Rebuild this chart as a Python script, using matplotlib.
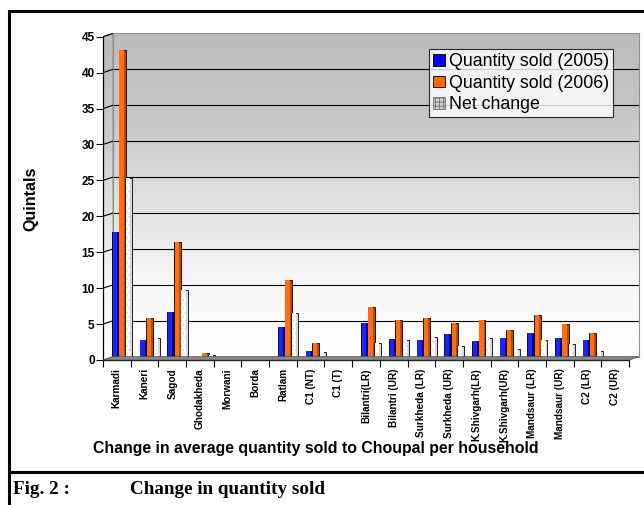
import numpy as np
import matplotlib
matplotlib.use("Agg")
import matplotlib.pyplot as plt
from matplotlib.patches import Patch, Polygon
from matplotlib.lines import Line2D
from matplotlib.colors import LinearSegmentedColormap

categories = ["Karmadi", "Kaneri", "Sagod", "Ghodakheda", "Morwani", "Borda", "Ratlam",
              "C1 (NT)", "C1 (T)", "Bilantri(LR)", "Bilantri (UR)", "Surkheda (LR)",
              "Surkheda (UR)", "K.Shivgarh(LR)", "K.Shivgarh(UR)", "Mandsaur (LR)",
              "Mandsaur (UR)", "C2 (LR)", "C2 (UR)"]
sold_2005 = [17.8, 2.8, 6.7, 0.3, 0.0, 0.0, 4.6, 1.3, 0.0, 5.2, 2.9, 2.8, 3.6, 2.7, 3.0, 3.7, 3.1, 2.8, 0.0]
sold_2006 = [43.2, 5.8, 16.4, 1.0, 0.0, 0.0, 11.1, 2.3, 0.0, 7.4, 5.5, 5.8, 5.2, 5.6, 4.2, 6.3, 5.0, 3.7, 0.0]
net_change = [25.4, 3.0, 9.7, 0.7, 0.0, 0.0, 6.5, 1.1, 0.0, 2.3, 2.8, 3.2, 1.9, 3.0, 1.5, 2.8, 2.2, 1.2, 0.0]
series_labels = ["Quantity sold (2005)", "Quantity sold (2006)", "Net change"]
yticks = [0, 5, 10, 15, 20, 25, 30, 35, 40, 45]

SANS = ["Liberation Sans", "DejaVu Sans"]
SERIF = ["Liberation Serif", "DejaVu Serif"]
plt.rcParams['font.family'] = SANS
plt.rcParams['hatch.linewidth'] = 0.6

W, H = 644, 505
fig = plt.figure(figsize=(W / 100, H / 100), dpi=100)
fig.patch.set_facecolor("white")

def fx(x):
    return x / W

def fy(y):
    return 1 - y / H

# geometry (pixels)
FL, FR, FB, FT = 103, 629, 360, 36.7      # front plane
DX, DY = 10, 3.3                           # depth offset
BL, BR, BB, BT = FL + DX, FR + DX, FB - DY, FT - DY

grad_cmap = LinearSegmentedColormap.from_list("wall", ["#ffffff", "#f6f6f6", "#dedede", "#c6c6c6", "#bcbcbc"])
grad = np.linspace(0, 1, 256).reshape(-1, 1)

# back wall
bg = fig.add_axes([fx(BL), fy(BB), (BR - BL) / W, (BB - BT) / H])
bg.imshow(grad, extent=[0, 1, 0, 45], aspect="auto", cmap=grad_cmap, origin="lower", zorder=0)
bg.set_xlim(0, 1)
bg.set_ylim(0, 45)
for v in yticks[1:-1]:
    bg.axhline(v, color="black", lw=0.8, zorder=1)
bg.set_xticks([])
bg.set_yticks([])
for s in bg.spines.values():
    s.set_color("#909090")
    s.set_linewidth(0.8)

# side wall
side = fig.add_axes([fx(FL), fy(FB), DX / W, (FB - BT) / H])
side.set_xlim(0, 1)
side.set_ylim(0, 1)
side.axis("off")
im = side.imshow(grad, extent=[0, 1, 0, 1], aspect="auto", cmap=grad_cmap, origin="lower")
hh = FB - BT
poly = Polygon([(0, 0), (1, DY / hh), (1, 1), (0, (FB - FT) / hh)], closed=True,
               transform=side.transAxes, facecolor="none", edgecolor="#909090", lw=0.8)
side.add_patch(poly)
im.set_clip_path(poly)
scale = (FB - FT) / 45.0
for v in yticks[1:]:
    yf = v * scale / hh
    yb = (DY + v * scale) / hh
    side.add_line(Line2D([0, 1], [yf, yb], color="black", lw=0.8, transform=side.transAxes))

# floor
floor = Polygon([(fx(FL), fy(FB)), (fx(BL), fy(BB)), (fx(BR), fy(BB)), (fx(FR), fy(FB))],
                closed=True, transform=fig.transFigure, facecolor="#8a8a8a",
                edgecolor="#555555", lw=0.6)
fig.add_artist(floor)

# main axes
ax = fig.add_axes([fx(FL), fy(FB), (FR - FL) / W, (FB - FT) / H])
ax.patch.set_alpha(0)
ax.set_xlim(-0.5, len(categories) - 0.5)
ax.set_ylim(0, 45)
x = np.arange(len(categories))

bw = 0.25
offsets = [-0.05, 0.19, 0.43]
face = ["#1a22ff", "#ff6d10", "#ffffff"]
dark = ["#00008a", "#c04800", "#d8d8d8"]
for k, vals in enumerate([sold_2005, sold_2006, net_change]):
    xs = x + offsets[k]
    ax.bar(xs, vals, width=bw, color=dark[k], edgecolor="black", lw=0.6, zorder=3 + k)
    left = xs - bw / 2 + 0.1 * bw
    if k == 2:
        ax.bar(left, vals, width=bw * 0.62, align="edge", color=face[k], edgecolor="#dcdcb4",
               hatch="....", lw=0, zorder=3 + k)
    else:
        ax.bar(left, vals, width=bw * 0.62, align="edge", color=face[k], lw=0, zorder=3 + k)
    # tiny caps for zero-height bars
    zx = [xx for xx, vv in zip(xs, vals) if vv == 0]
    ax.bar(zx, [0.25] * len(zx), width=bw, color="#3a2a20", lw=0, zorder=3 + k)

for s in ["top", "right"]:
    ax.spines[s].set_visible(False)
ax.spines["left"].set_linewidth(0.9)
ax.spines["bottom"].set_linewidth(0.9)
ax.set_yticks(yticks)
ax.set_yticklabels([str(v) for v in yticks], fontsize=8.5, fontweight="bold")
ax.tick_params(axis="y", direction="out", length=5, width=0.8, pad=1)
ax.set_xticks(np.arange(-0.5, len(categories)), minor=False)
ax.set_xticklabels([])
ax.tick_params(axis="x", which="major", direction="out", length=5, width=0.8)
ax.set_xticks(x, minor=True)
ax.set_xticklabels(categories, minor=True, rotation=90, fontsize=7.2, fontweight="bold")
ax.tick_params(axis="x", which="minor", length=0, pad=6)

# legend
handles = [Patch(facecolor="#0000ff", edgecolor="black", lw=0.6),
           Patch(facecolor="#ff6600", edgecolor="black", lw=0.6),
           Patch(facecolor="#d0d0d0", edgecolor="#707070", hatch="++++", lw=0.6)]
leg = fig.legend(handles, series_labels, loc="upper left", bbox_to_anchor=(fx(429), fy(49)),
                 fontsize=12.8, frameon=True, fancybox=False, borderpad=0.25,
                 handlelength=0.65, handleheight=0.65, handletextpad=0.2,
                 labelspacing=0.24, borderaxespad=0)
leg.get_frame().set_edgecolor("black")
leg.get_frame().set_linewidth(0.8)

# texts
fig.text(fx(31), fy(199), "Quintals", rotation=90, fontsize=11.5, fontweight="bold",
         ha="center", va="center")
fig.text(fx(316), fy(449), "Change in average quantity sold to Choupal per household",
         fontsize=11.4, fontweight="bold", ha="center", va="center")
fig.text(fx(13), fy(490), "Fig. 2 :", family=SERIF, fontsize=13.8, fontweight="bold",
         ha="left", va="center")
fig.text(fx(130), fy(490), "Change in quantity sold", family=SERIF, fontsize=13.8,
         fontweight="bold", ha="left", va="center")

# frame
fr = dict(color="black", lw=2.2, transform=fig.transFigure, solid_capstyle="butt")
fig.add_artist(Line2D([fx(9), fx(9)], [fy(10), 0], **fr))
fig.add_artist(Line2D([fx(8), 1], [fy(10.5), fy(10.5)], **fr))
fig.add_artist(Line2D([fx(8), 1], [fy(472), fy(472)], **fr))

fig.savefig("out.png", dpi=100)
